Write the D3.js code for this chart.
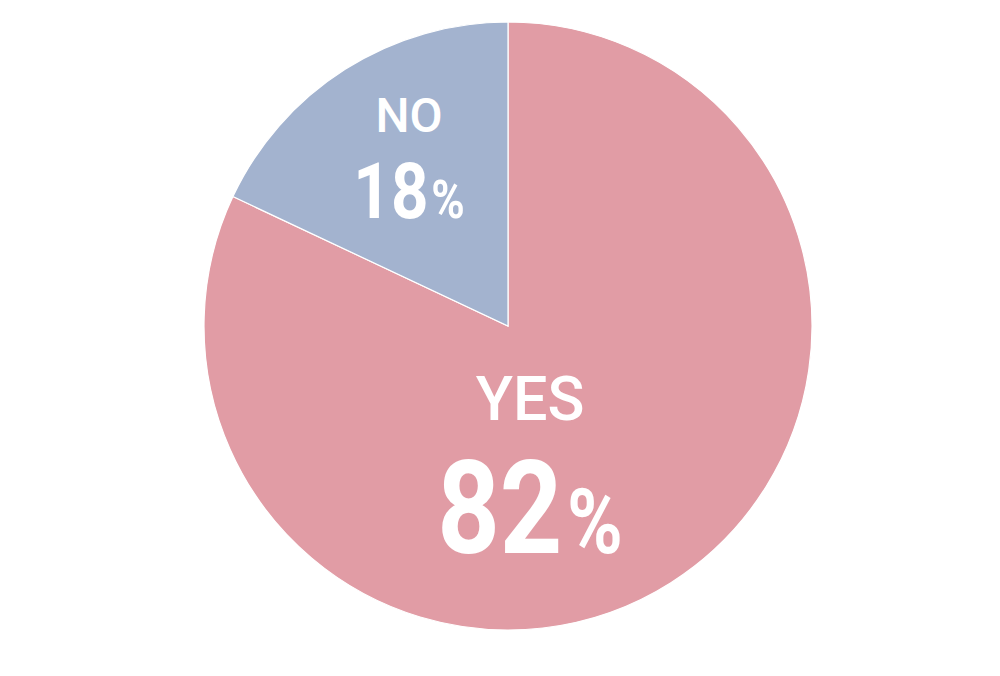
<!DOCTYPE html>
<html><head><meta charset="utf-8">
<script src="https://cdn.jsdelivr.net/npm/d3@7"></script>
<style>html,body{margin:0;padding:0;background:#fff;}svg{display:block;}</style>
</head><body>
<svg id="chart" width="1000" height="676"></svg>
<script>
const categories = ["YES", "NO"];
const values = [82, 18];
const colors = ["#e19ca5", "#a3b3cf"];

const svg = d3.select("#chart");
const cx = 508, cy = 326, R = 304;
const g = svg.append("g").attr("transform", `translate(${cx},${cy})`);

const data = categories.map((c, i) => ({cat: c, value: values[i], color: colors[i]}));
const pie = d3.pie().value(d => d.value).sort(null)
  .startAngle(0).endAngle(2 * Math.PI);
const arcs = pie(data);
const arc = d3.arc().innerRadius(0).outerRadius(R);

g.selectAll("path").data(arcs).join("path")
  .attr("d", arc)
  .attr("fill", d => d.data.color)
  .attr("stroke", "#fff")
  .attr("stroke-width", 1.2);

// label layout (offsets from center)
const labelPos = {
  "YES": {x: 22, nameY: 94, valY: 227, nameSize: 61, valSize: 130, pctSize: 90},
  "NO":  {x: -99, nameY: -194, valY: -108, nameSize: 48, valSize: 78, pctSize: 54}
};

arcs.forEach(a => {
  const p = labelPos[a.data.cat];
  g.append("text")
    .attr("x", p.x).attr("y", p.nameY)
    .attr("text-anchor", "middle")
    .attr("fill", "#fff")
    .attr("font-family", "Roboto, sans-serif")
    .attr("font-weight", 500)
    .attr("font-size", p.nameSize)
    .text(a.data.cat);
  const vg = g.append("g").attr("transform", `translate(${p.x},${p.valY}) scale(0.84,1)`);
  const t = vg.append("text")
    .attr("x", 0).attr("y", 0)
    .attr("text-anchor", "middle")
    .attr("fill", "#fff")
    .attr("font-family", "Roboto, sans-serif")
    .attr("font-weight", 700);
  t.append("tspan").attr("font-size", p.valSize).text(a.data.value);
  t.append("tspan").attr("font-size", p.pctSize).attr("dx", p.valSize * 0.04).text("%");
});
</script>
</body></html>
